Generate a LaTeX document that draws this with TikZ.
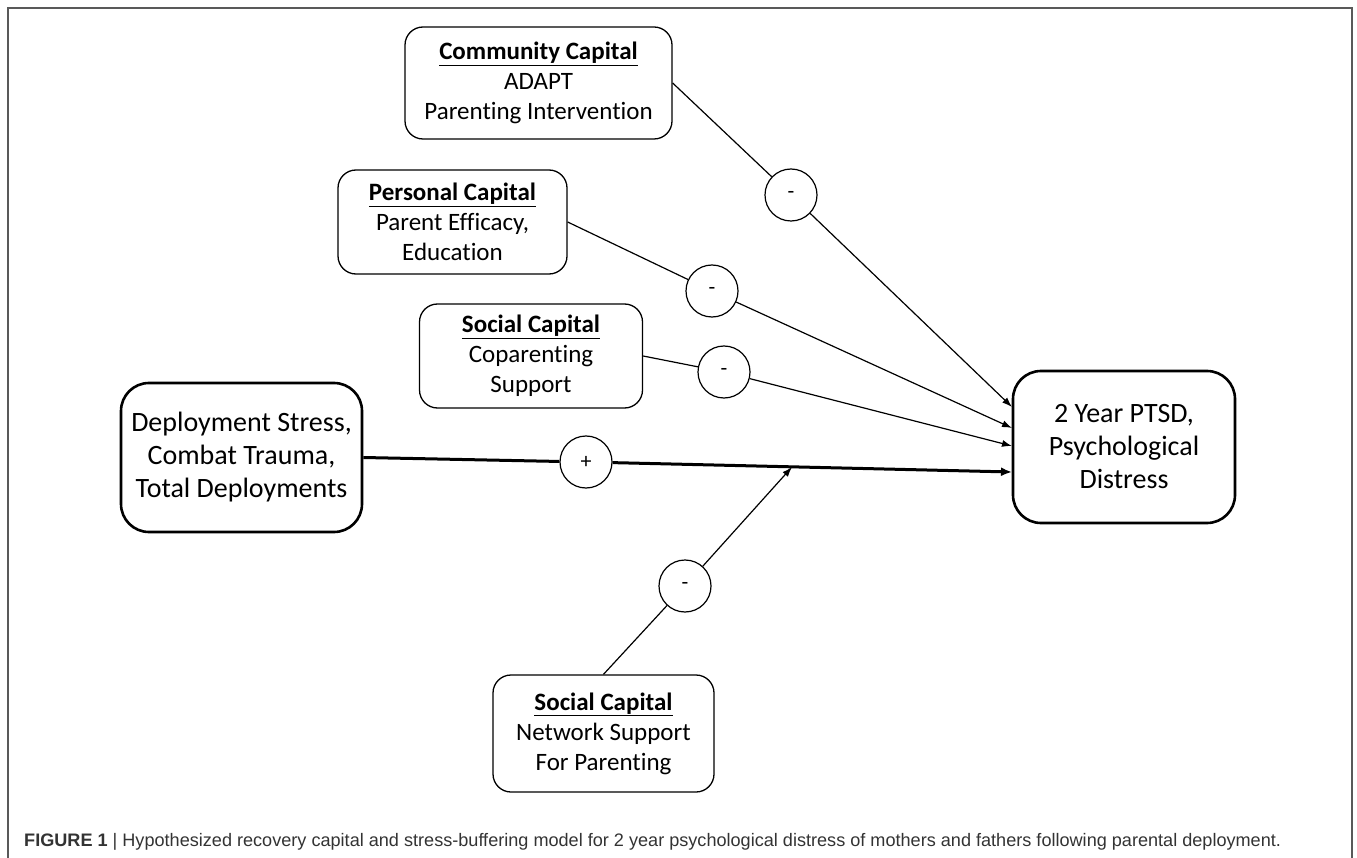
\documentclass[tikz,border=0pt]{standalone}
\usepackage{fontspec}
\setmainfont{Carlito}[Ligatures=NoCommon]
\newfontfamily\capfont{Liberation Sans}
\usetikzlibrary{arrows.meta}

\begin{document}
\begin{tikzpicture}[x=1pt,y=-1pt,
  capbox/.style={draw, line width=1.3pt, rounded corners=18pt, align=center, inner sep=0pt, font=\fontsize{25}{30}\selectfont},
  mainbox/.style={draw, line width=2.6pt, rounded corners=28pt, align=center, inner sep=0pt, font=\fontsize{28}{33}\selectfont},
  sign/.style={draw, circle, line width=1.2pt, minimum size=52pt, inner sep=0pt, font=\fontsize{22}{22}\selectfont},
  link/.style={line width=1.2pt, -{Latex[length=10pt,width=7pt]}},
  thicklink/.style={line width=3pt, -{Latex[length=11pt,width=9pt]}}]
\useasboundingbox (0,0) rectangle (1357,858);
\draw [gray!70!black, line width=1.4pt] (8,860) -- (8,8) -- (1352,8) -- (1352,860);

% capital boxes
\node [capbox, minimum width=267pt, minimum height=112pt] (comm) at (538.5,83) {\underline{\textbf{Community Capital}}\\ ADAPT\\ Parenting Intervention};
\node [capbox, minimum width=229pt, minimum height=104pt] (pers) at (452.5,222) {\underline{\textbf{Personal Capital}}\\ Parent Efficacy,\\ Education};
\node [capbox, minimum width=223pt, minimum height=104pt] (cop) at (531,356) {\underline{\textbf{Social Capital}}\\ Coparenting\\ Support};
\node [capbox, minimum width=221pt, minimum height=117pt] (net) at (603.5,733.5) {\underline{\textbf{Social Capital}}\\ Network Support\\ For Parenting};

% stressor and outcome
\node [mainbox, minimum width=241pt, minimum height=149pt] (depl) at (241.5,457.5) {Deployment Stress,\\ Combat Trauma,\\ Total Deployments};
\node [mainbox, minimum width=222pt, minimum height=152pt] (ptsd) at (1124,447) {2 Year PTSD,\\ Psychological\\ Distress};

% signs
\node [sign] (s1) at (791,195) {-};
\node [sign] (s2) at (712,291) {-};
\node [sign] (s3) at (724,372) {-};
\node [sign] (s4) at (586,462) {+};
\node [sign] (s5) at (685,586) {-};

% arrow ends
\coordinate (e1) at (1012,407);
\coordinate (e2) at (1012,428);
\coordinate (e3) at (1012,446);
\coordinate (e4) at (1012,472);
\coordinate (e5) at (792,467);

\draw [line width=1.2pt] (comm.east) -- (s1);
\draw [link] (s1) -- (e1);
\draw [line width=1.2pt] (pers.east) -- (s2);
\draw [link] (s2) -- (e2);
\draw [line width=1.2pt] (cop.east) -- (s3);
\draw [link] (s3) -- (e3);
\draw [line width=3pt] (depl.east) -- (s4);
\draw [thicklink] (s4) -- (e4);
\draw [line width=1.2pt] (net.north) -- (s5);
\draw [link] (s5) -- (e5);

% caption
\node [anchor=west, inner sep=0pt, text=black!80, font=\capfont\fontsize{18.1}{18}\selectfont] (cap) at (24,842) {\textbf{FIGURE 1} | Hypothesized recovery capital and stress-buffering model for 2 year psychological distress of mothers and fathers following parental deployment.};
\end{tikzpicture}
\end{document}
